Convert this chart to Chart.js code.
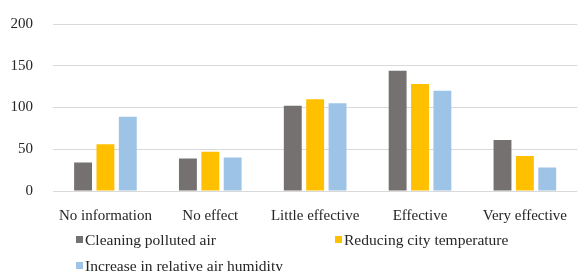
<!DOCTYPE html>
<html>
<head>
<meta charset="utf-8">
<script src="https://cdn.jsdelivr.net/npm/chart.js@4/dist/chart.umd.min.js"></script>
<style>
    html, body { margin: 0; padding: 0; background: #fff; }
    #wrap { position: relative; width: 583px; height: 271px; overflow: hidden; }
    #legend { position: absolute; left: 0; top: 0; width: 583px; height: 271px; pointer-events: none;
        font-family: "Liberation Serif", "Times New Roman", serif; font-size: 15.5px; color: #262626; }
    .item { position: absolute; white-space: nowrap; line-height: 16px; padding-left: 9px; }
    .box { position: absolute; left: 0; top: 4px; width: 7px; height: 7px; }
</style>
</head>
<body>
<div id="wrap">
    <canvas id="chart" width="583" height="271"></canvas>
    <div id="legend"></div>
</div>
<script>
var categories = ['No information', 'No effect', 'Little effective', 'Effective', 'Very effective'];
var seriesNames = ['Cleaning polluted air', 'Reducing city temperature', 'Increase in relative air humidity'];
var cleaningAir = [34, 39, 102, 144, 61];
var reducingTemp = [56, 47, 110, 128, 42];
var increaseHumidity = [89, 40, 105, 120, 28];
var yTicks = [0, 50, 100, 150, 200];
var colors = ['#767171', '#ffc000', '#9dc3e6'];
var serif = '"Liberation Serif", "Times New Roman", serif';

// legend positions follow the original's two-column layout
var legendSpots = [[76, 232], [335, 232], [76, 258]];

var chart = new Chart(document.getElementById('chart').getContext('2d'), {
    type: 'bar',
    data: {
        labels: categories,
        datasets: [cleaningAir, reducingTemp, increaseHumidity].map(function (vals, i) {
            return {
                label: seriesNames[i],
                data: vals,
                backgroundColor: colors[i],
                categoryPercentage: 0.64,
                barPercentage: 0.8
            };
        })
    },
    options: {
        responsive: false,
        animation: false,
        layout: { padding: { left: 0, right: 0, top: 24, bottom: 30 } },
        plugins: {
            legend: { display: false },
            tooltip: { enabled: false }
        },
        scales: {
            x: {
                grid: { display: false, drawTicks: false },
                border: { display: false },
                ticks: {
                    color: '#262626',
                    padding: 16,
                    maxRotation: 0,
                    autoSkip: false,
                    font: { family: serif, size: 15 }
                }
            },
            y: {
                min: 0,
                max: 200,
                afterBuildTicks: function (axis) {
                    axis.ticks = yTicks.map(function (v) { return { value: v }; });
                },
                afterFit: function (axis) {
                    // fixed axis width; don't let the label padding push the plot down
                    axis.width = 53;
                    axis.paddingTop = 9;
                    axis.paddingBottom = 9;
                },
                grid: { color: '#d9d9d9', drawTicks: false },
                border: { display: false },
                ticks: {
                    color: '#262626',
                    padding: 20,
                    font: { family: serif, size: 15 }
                }
            }
        }
    }
});

var legend = document.getElementById('legend');
seriesNames.forEach(function (name, i) {
    var el = document.createElement('div');
    el.className = 'item';
    el.style.left = legendSpots[i][0] + 'px';
    el.style.top = legendSpots[i][1] + 'px';
    var box = document.createElement('span');
    box.className = 'box';
    box.style.background = colors[i];
    el.appendChild(box);
    el.appendChild(document.createTextNode(name));
    legend.appendChild(el);
});
</script>
</body>
</html>
